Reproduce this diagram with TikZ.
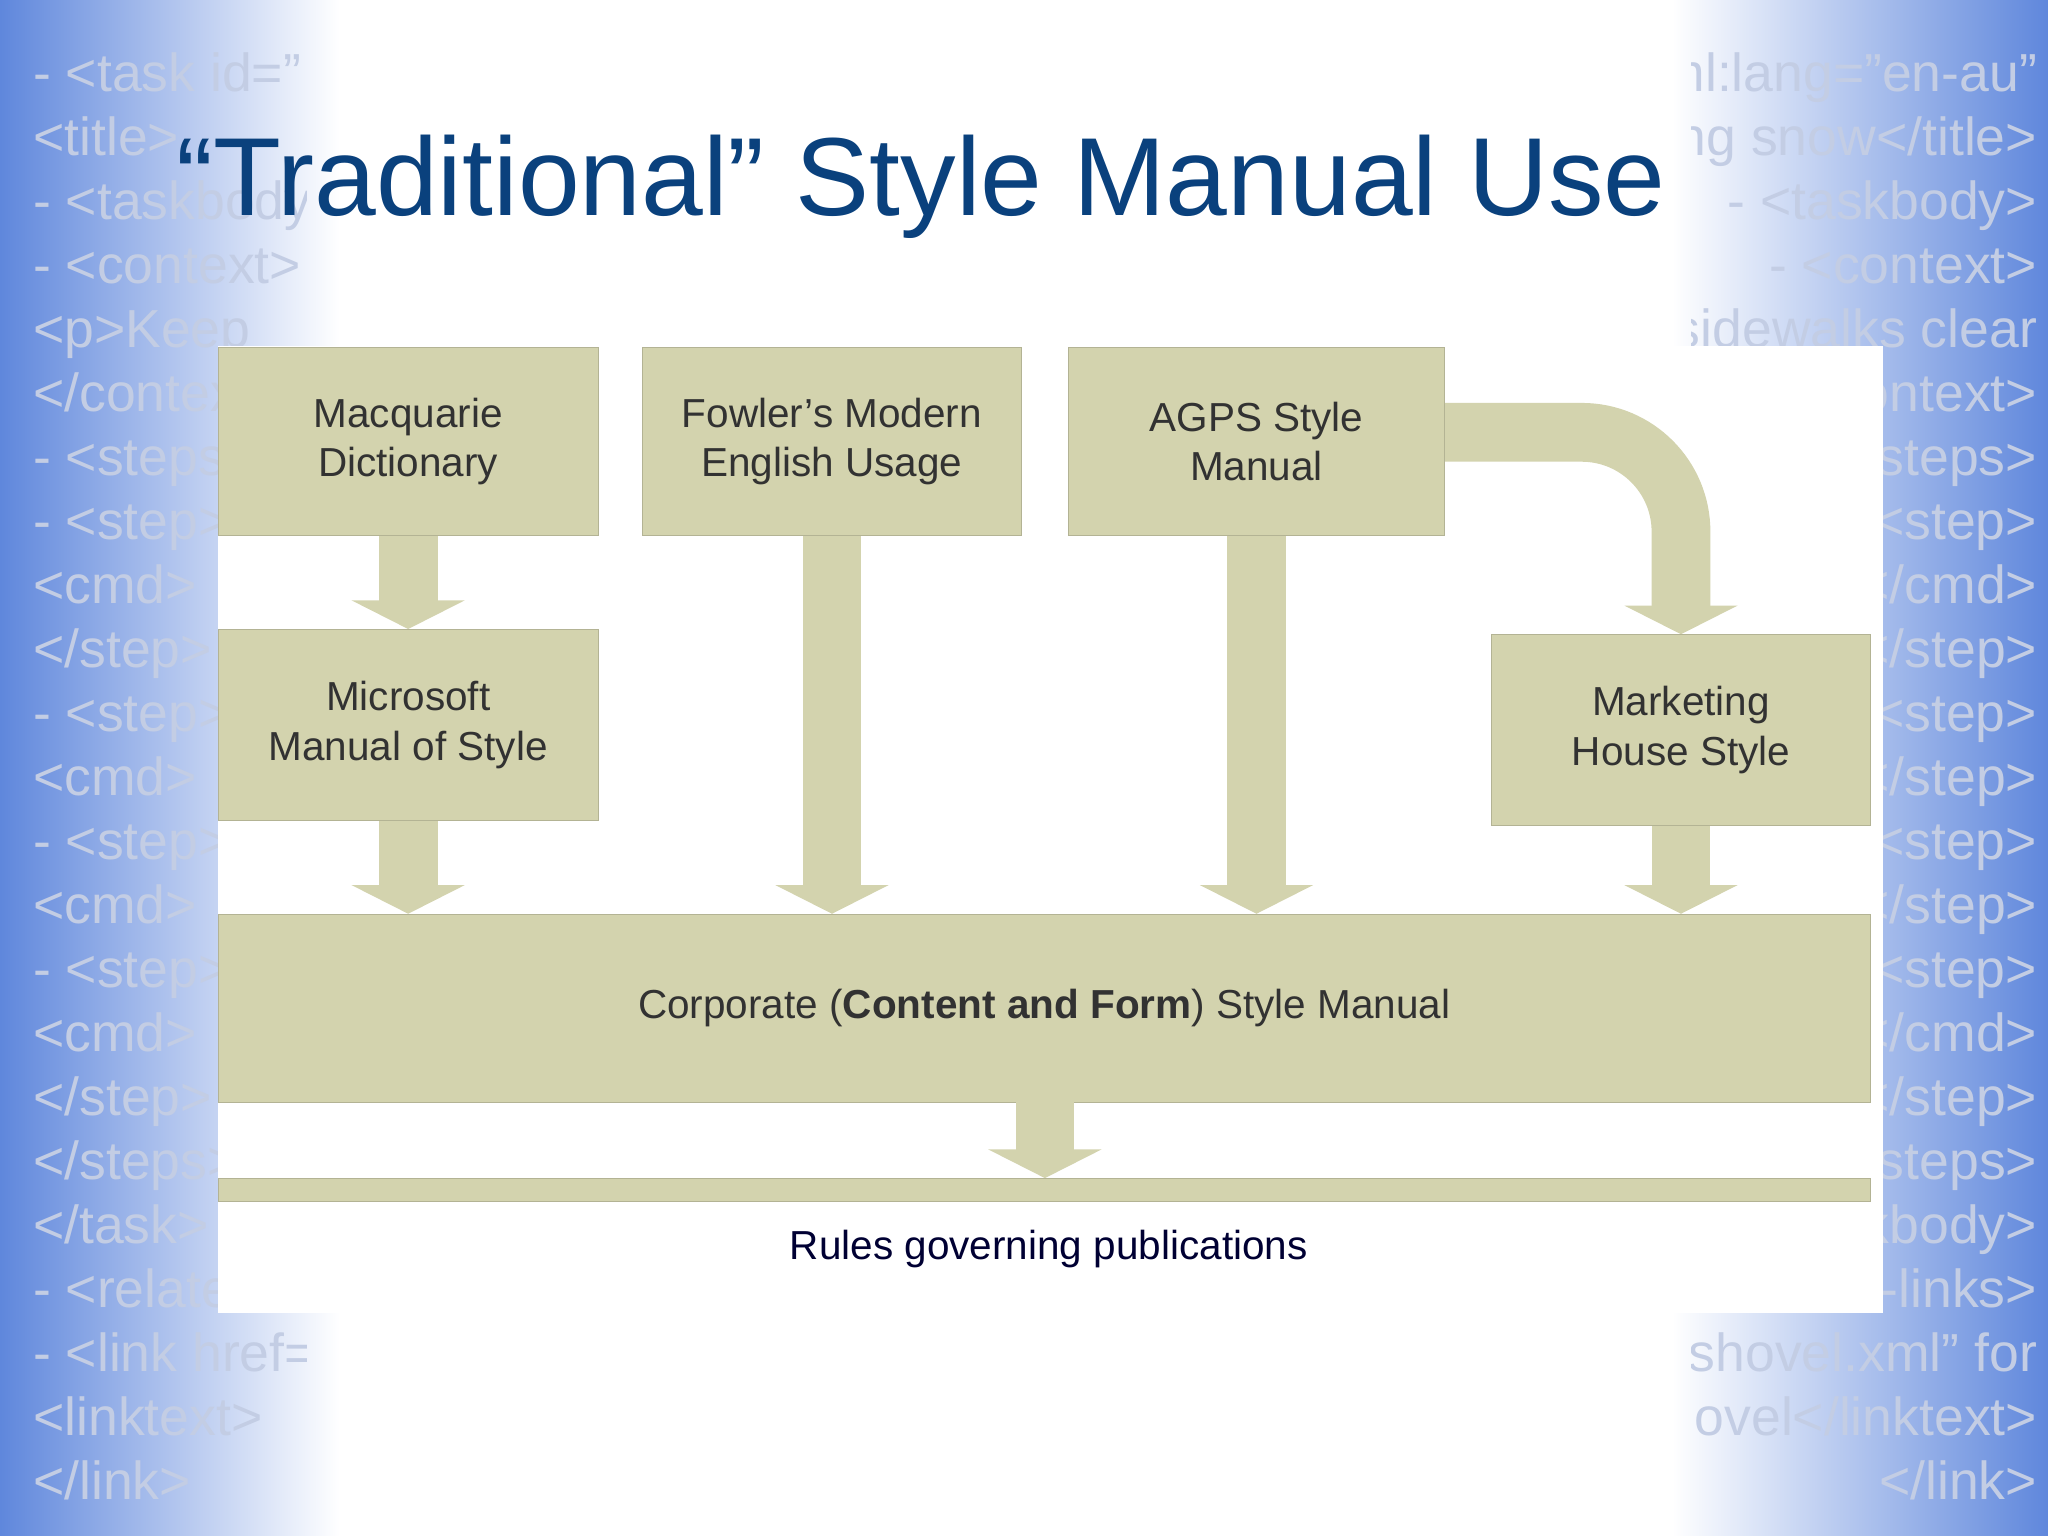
\documentclass[tikz,border=0pt]{standalone}
\usepackage{fontspec}
\setmainfont{Liberation Sans}
\usetikzlibrary{arrows.meta}
\definecolor{boxc}{RGB}{211,211,174}
\definecolor{edgeblue}{RGB}{95,135,220}
\definecolor{titleblue}{RGB}{10,65,125}
\definecolor{xmlc}{RGB}{195,205,228}
\definecolor{txt}{RGB}{50,50,50}
\begin{document}
\begin{tikzpicture}[x=0.5pt,y=-0.5pt,
  box/.style={fill=boxc,draw=boxc!85!black,line width=0.4pt,inner sep=0pt,align=center,font=\fontsize{15.5}{19}\selectfont,text=txt},
  barrow/.style={draw=boxc,line width=22.5pt,-{Triangle[width=43pt,length=11pt]}},
  xml/.style={anchor=base west,text=xmlc,font=\fontsize{20.5}{24}\selectfont,inner sep=0pt}]
\useasboundingbox (0,0) rectangle (1568,1176);
\fill[white] (0,0) rectangle (1568,1176);
\shade[left color=edgeblue,right color=white] (0,0) rectangle (260,1176);
\shade[left color=white,right color=edgeblue] (1280,0) rectangle (1568,1176);
\begin{scope}
\clip (0,0) rectangle (235,1176);
\foreach \t [count=\i] in {- <task id=",<title>,- <taskbody>,- <context>,<p>Keep,</context>,- <steps>,- <step>,<cmd>,</step>,- <step>,<cmd>,- <step>,<cmd>,- <step>,<cmd>,</step>,</steps>,</task>,- <related,- <link href=,<linktext>,</link>}
  \node[xml] at (25,70+49*\i-49) {\t};
\end{scope}
\begin{scope}
\clip (1295,0) rectangle (1568,1176);
\foreach \t [count=\i] in {xml:lang="en-au",ing snow</title>,- <taskbody>,- <context>,sidewalks clear,</context>,- <steps>,- <step>,</cmd>,</step>,- <step>,</step>,- <step>,</step>,- <step>,</cmd>,</step>,</steps>,</taskbody>,</related-links>,shovel.xml" for,shovel</linktext>,</link>}
  \node[xml,anchor=base east] at (1560,70+49*\i-49) {\t};
\end{scope}
\fill[white] (167,265) rectangle (1442,1005);
\node[anchor=base west,inner sep=0pt,text=titleblue,font=\fontsize{42.5}{50}\selectfont] (title) at (135,165) {“Traditional” Style Manual Use};
\node[box,minimum width=145.5pt,minimum height=72pt] (mac) at (312.5,338) {Macquarie\\Dictionary};
\node[box,minimum width=145pt,minimum height=72pt] (fow) at (637,338) {Fowler’s Modern\\English Usage};
\node[box,minimum width=144pt,minimum height=72pt] (agps) at (962,338) {AGPS Style\\Manual};
\node[box,minimum width=145.5pt,minimum height=73pt] (mic) at (312.5,555) {Microsoft\\Manual of Style};
\node[box,minimum width=145pt,minimum height=73pt] (mkt) at (1287,559) {Marketing\\House Style};
\node[box,minimum width=632.5pt,minimum height=72pt] (corp) at (799.5,772) {Corporate (\textbf{Content and Form}) Style Manual};
\node[box,minimum width=632.5pt,minimum height=9pt] (bar) at (799.5,911) {};
\node[text=black!80!blue,font=\fontsize{15.5}{19}\selectfont] (rules) at (803,956) {Rules governing publications};
\draw[barrow] (mac.south) -- (mic.north);
\draw[barrow] (mic.south) -- (mic.south |- corp.north);
\draw[barrow] (fow.south) -- (fow.south |- corp.north);
\draw[barrow] (agps.south) -- (agps.south |- corp.north);
\draw[barrow] (mkt.south) -- (mkt.south |- corp.north);
\draw[barrow] (800,844) -- (800,902) coordinate (bt);
\draw[barrow,rounded corners=38pt] ([yshift=3.5pt]agps.east) -| (mkt.north);
\end{tikzpicture}
\end{document}
